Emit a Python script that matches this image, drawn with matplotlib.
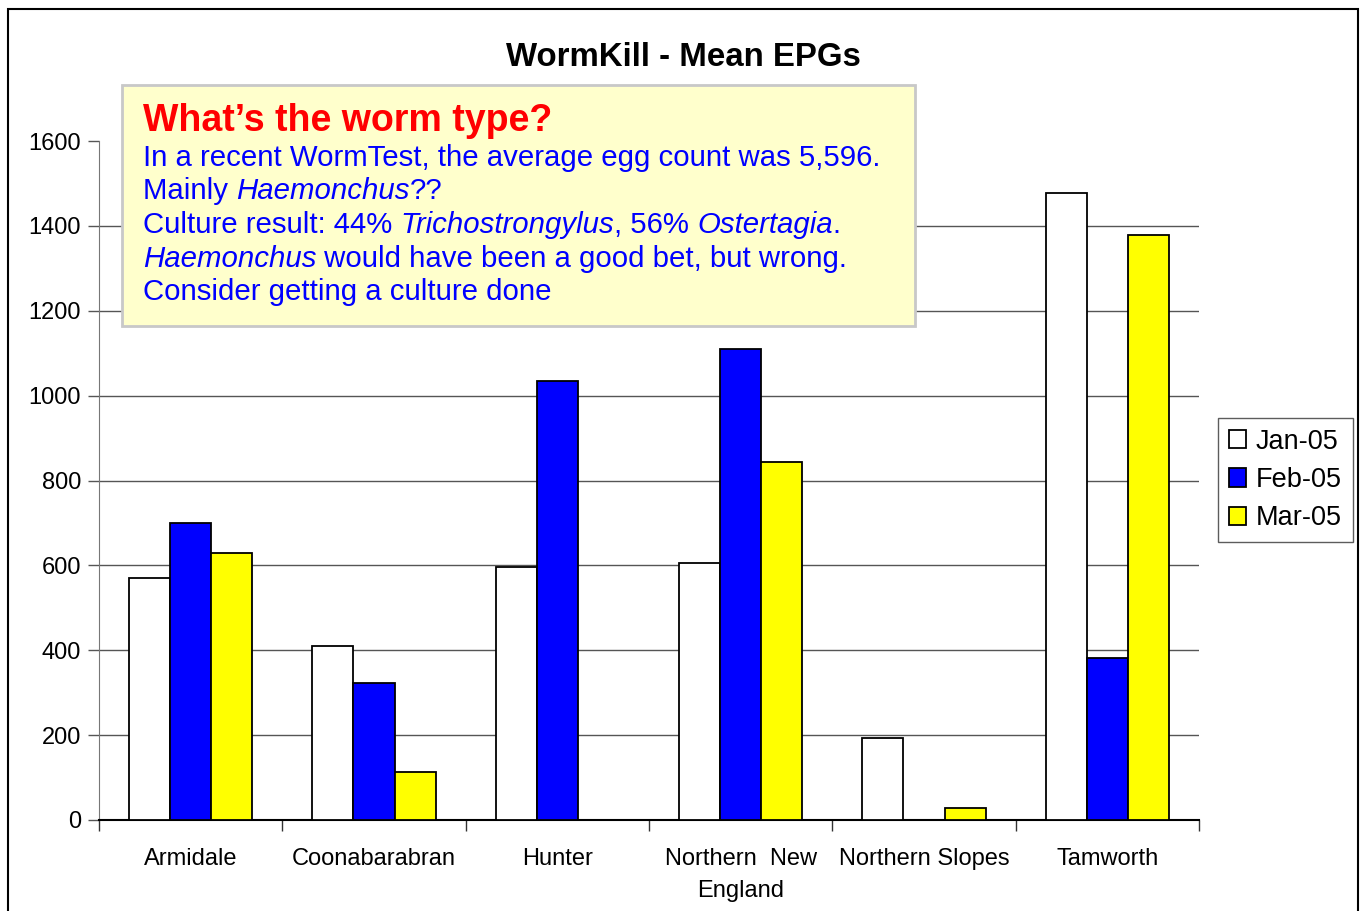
import numpy as np
import matplotlib
matplotlib.use('Agg')
import matplotlib.pyplot as plt
from matplotlib.patches import Rectangle

plt.rcParams['font.family'] = ['Liberation Sans', 'DejaVu Sans']

regions = ['Armidale', 'Coonabarabran', 'Hunter', 'Northern  New\nEngland',
           'Northern Slopes', 'Tamworth']
months = ['Jan-05', 'Feb-05', 'Mar-05']
jan_05 = [570, 410, 596, 606, 193, 1477]
feb_05 = [700, 323, 1034, 1110, 0, 382]
mar_05 = [629, 113, 0, 844, 28, 1378]
colors = ['white', '#0000FF', '#FFFF00']

note_title = 'What\u2019s the worm type?'
note_lines = [
    [('In a recent WormTest, the average egg count was 5,596.', 'normal')],
    [('Mainly ', 'normal'), ('Haemonchus', 'italic'), ('??', 'normal')],
    [('Culture result: 44% ', 'normal'), ('Trichostrongylus', 'italic'),
     (', 56% ', 'normal'), ('Ostertagia', 'italic'), ('.', 'normal')],
    [('Haemonchus', 'italic'), (' would have been a good bet, but wrong.', 'normal')],
    [('Consider getting a culture done', 'normal')],
]

W, H = 1362, 911
fig = plt.figure(figsize=(W / 100, H / 100), dpi=100)
ax = fig.add_axes([99 / W, 1 - 820 / H, 1100 / W, 679 / H])

x = np.arange(len(regions))
bw = 0.224
for i, (vals, c) in enumerate(zip([jan_05, feb_05, mar_05], colors)):
    bars = ax.bar(x + (i - 1) * bw, vals, bw, color=c, edgecolor='black',
                  linewidth=1.3, label=months[i], zorder=3)
    for b, v in zip(bars, vals):
        if v == 0:
            b.set_visible(False)

ax.set_xlim(-0.5, len(regions) - 0.5)
ax.set_ylim(0, 1600)
ax.set_yticks(range(0, 1601, 200))
for yv in range(200, 1600, 200):
    ax.axhline(yv, color='#555555', linewidth=1, zorder=0)
ax.set_xticks(x)
ax.set_xticklabels(regions, fontsize=17, linespacing=1.55, va='top')
ax.set_xticks(np.arange(-0.5, len(regions)), minor=True)
ax.tick_params(axis='x', which='major', length=0, pad=20.5)
ax.tick_params(axis='x', which='minor', length=8, width=1, color='#333333')
ax.tick_params(axis='y', labelsize=17, length=8, width=1, color='#555555', pad=5)
for s in ['top', 'right']:
    ax.spines[s].set_visible(False)
ax.spines['left'].set_color('#777777')
ax.spines['bottom'].set_color('black')
ax.spines['bottom'].set_linewidth(1.5)

fig.text(683 / W, 1 - 57 / H, 'WormKill - Mean EPGs', ha='center', va='center',
         fontsize=23.8, fontweight='bold')

leg = fig.legend(loc='upper left', bbox_to_anchor=(1218 / W, 1 - 418 / H),
                 fontsize=19.5, frameon=True, fancybox=False, handlelength=0.65,
                 handleheight=0.65, handletextpad=0.35, labelspacing=0.45,
                 borderpad=0.4, borderaxespad=0)
leg.get_frame().set_edgecolor('#333333')
leg.get_frame().set_linewidth(1)

# note box
fig.patches.append(Rectangle((122 / W, 1 - 326 / H), 793 / W, 241 / H,
                             transform=fig.transFigure, facecolor='#FFFFCC',
                             edgecolor='#C8C8C8', linewidth=2, zorder=5))
fig.text(143 / W, 1 - 131 / H, note_title, color='#FF0000', fontsize=27,
         fontweight='bold', va='baseline', zorder=6)

fs = 21.2
renderer = fig.canvas.get_renderer()
bar_w = fig.text(0, 0, '|', fontsize=fs).get_window_extent(renderer).width
fig.texts[-1].remove()
baselines = [166, 199, 233, 267, 300]
for segs, yb in zip(note_lines, baselines):
    xp = 143
    for txt, style in segs:
        t = fig.text(xp / W, 1 - yb / H, txt, color='#0000FF', fontsize=fs,
                     style=style, va='baseline', zorder=6)
        probe = fig.text(0, 0, txt + '|', fontsize=fs, style=style)
        xp += probe.get_window_extent(renderer).width - bar_w
        probe.remove()

# outer frame
fig.patches.append(Rectangle((8 / W, -0.01), 1350 / W, 1.01 - 9 / H,
                             transform=fig.transFigure, fill=False,
                             edgecolor='black', linewidth=1.5, zorder=0))

fig.savefig('out.png', dpi=100)
